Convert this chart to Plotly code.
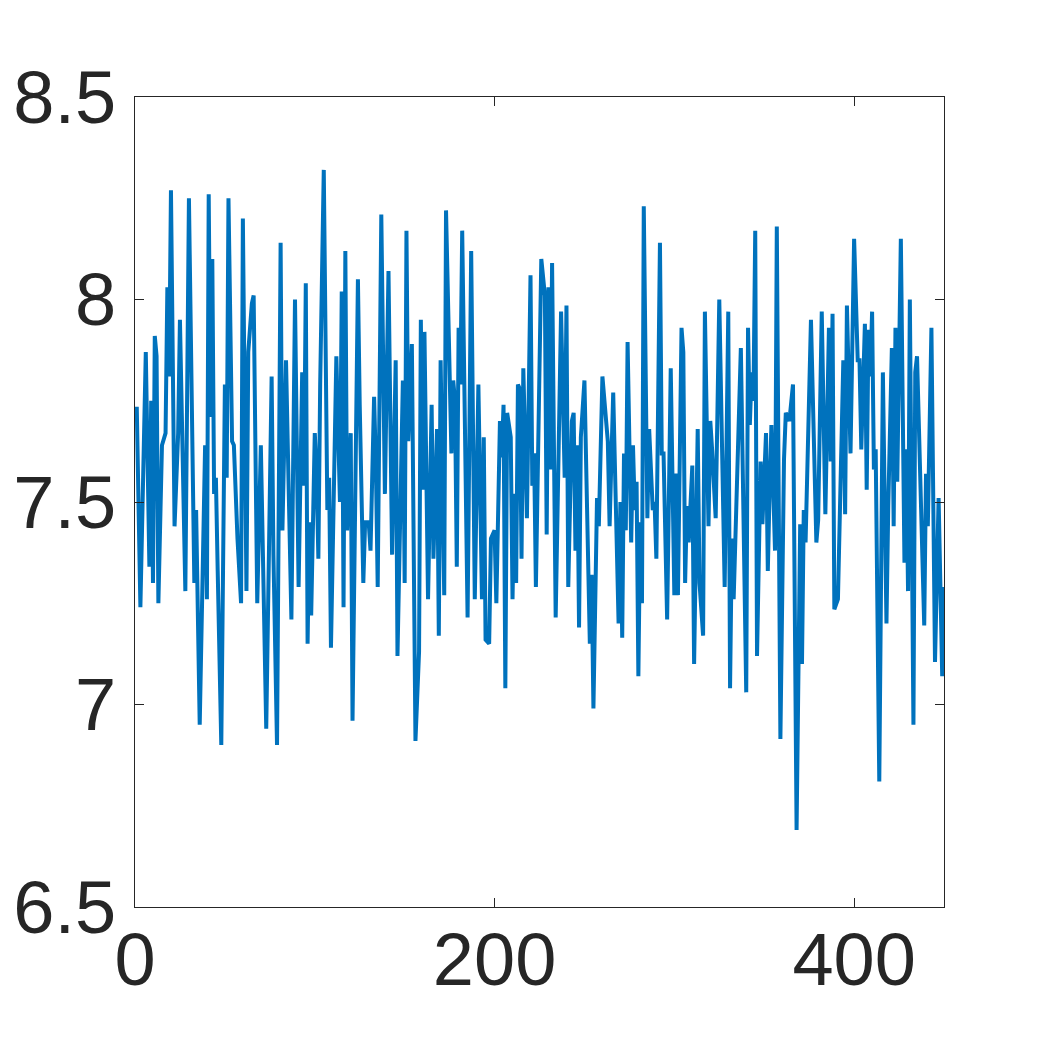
import plotly.graph_objects as go

# sample index of each vertex
sample_idx = [
    0, 1, 3, 6, 8, 9, 10, 11, 12, 13, 15, 17, 18, 19, 20, 22, 24, 25, 28, 30,
    33, 34, 36, 39, 40, 41, 42, 43, 44, 45, 46, 48, 50, 51, 52, 53, 54, 55, 57,
    59, 60, 62, 63, 65, 66, 68, 70, 73, 76, 77, 79, 81, 82, 84, 87, 89, 91, 93,
    94, 95, 96, 97, 98, 100, 101, 102, 103, 105, 107, 108, 109, 112, 114, 115,
    116, 117, 118, 120, 121, 124, 125, 127, 128, 130, 131, 133, 134, 135, 137,
    139, 141, 143, 145, 146, 149, 150, 151, 152, 154, 156, 158, 159, 160, 161,
    163, 165, 166, 168, 169, 170, 172, 173, 176, 177, 178, 179, 180, 181, 182,
    185, 187, 189, 191, 193, 194, 195, 197, 198, 200, 201, 203, 204, 205, 206,
    207, 209, 210, 211, 212, 213, 214, 215, 216, 218, 220, 221, 222, 223, 226,
    228, 229, 230, 231, 232, 234, 237, 239, 240, 241, 243, 244, 245, 246, 247,
    248, 250, 253, 254, 255, 257, 258, 260, 262, 263, 264, 266, 269, 270, 271,
    272, 273, 274, 276, 277, 278, 279, 280, 281, 282, 283, 285, 286, 288, 289,
    290, 292, 293, 294, 296, 298, 300, 301, 302, 304, 305, 306, 307, 308, 310,
    311, 313, 314, 316, 317, 319, 320, 321, 323, 325, 327, 328, 330, 331, 332,
    333, 337, 340, 341, 342, 343, 344, 345, 346, 348, 349, 351, 352, 353, 354,
    356, 357, 359, 361, 362, 364, 366, 368, 370, 371, 372, 373, 376, 379, 380,
    382, 384, 386, 387, 388, 389, 391, 394, 395, 396, 398, 400, 402, 403, 404,
    406, 407, 408, 409, 410, 411, 412, 414, 416, 418, 419, 421, 422, 423, 424,
    426, 428, 429, 430, 431, 433, 434, 435, 436, 439, 440, 441, 443, 445, 447,
    449, 450,
]

values = [
    7.73, 7.73, 7.24, 7.87, 7.34, 7.75, 7.30, 7.91, 7.86, 7.25, 7.64, 7.67, 8.03,
    7.81, 8.27, 7.44, 7.67, 7.95, 7.28, 8.25, 7.30, 7.48, 6.95, 7.64, 7.26, 8.26,
    7.71, 8.10, 7.52, 7.56, 7.33, 6.90, 7.79, 7.56, 8.25, 7.87, 7.65, 7.64, 7.41,
    7.25, 8.20, 7.28, 7.87, 7.99, 8.01, 7.25, 7.64, 6.94, 7.81, 7.37, 6.90, 8.14,
    7.43, 7.85, 7.21, 8.00, 7.29, 7.82, 7.54, 8.04, 7.15, 7.45, 7.22, 7.67, 7.57,
    7.36, 7.79, 8.32, 7.48, 7.56, 7.14, 7.86, 7.50, 8.02, 7.24, 8.12, 7.43, 7.67,
    6.96, 8.05, 7.74, 7.30, 7.45, 7.45, 7.38, 7.76, 7.59, 7.29, 8.21, 7.52, 8.07,
    7.37, 7.85, 7.12, 7.80, 7.30, 8.17, 7.65, 7.89, 6.91, 7.13, 7.95, 7.53, 7.92,
    7.26, 7.74, 7.36, 7.68, 7.17, 7.85, 7.27, 8.22, 7.62, 7.80, 7.75, 7.34, 7.93,
    7.79, 8.17, 7.215, 8.12, 7.26, 7.79, 7.26, 7.66, 7.16, 7.15, 7.41, 7.43, 7.25,
    7.70, 7.61, 7.74, 7.04, 7.72, 7.66, 7.26, 7.52, 7.30, 7.79, 7.78, 7.36, 7.83,
    7.46, 8.06, 7.54, 7.62, 7.29, 8.10, 8.01, 7.42, 8.03, 7.58, 8.09, 7.215, 7.97,
    7.56, 7.985, 7.29, 7.70, 7.72, 7.38, 7.64, 7.19, 7.66, 7.80, 7.15, 7.32, 6.99,
    7.51, 7.44, 7.81, 7.69, 7.65, 7.44, 7.77, 7.20, 7.50, 7.165, 7.62, 7.43, 7.895,
    7.40, 7.64, 7.48, 7.55, 7.07, 7.45, 7.25, 8.23, 7.46, 7.68, 7.48, 7.50, 7.36,
    8.14, 7.62, 7.62, 7.21, 7.83, 7.27, 7.57, 7.27, 7.93, 7.87, 7.30, 7.49, 7.40,
    7.59, 7.10, 7.68, 7.30, 7.17, 7.97, 7.44, 7.70, 7.63, 7.46, 8.00, 7.43, 7.29,
    7.97, 7.04, 7.41, 7.26, 7.88, 7.03, 7.93, 7.69, 7.82, 7.75, 8.17, 7.12, 7.60,
    7.445, 7.67, 7.33, 7.53, 7.69, 7.38, 8.18, 6.915, 7.605, 7.72, 7.70, 7.79,
    6.69, 7.445, 7.10, 7.48, 7.40, 7.95, 7.40, 7.455, 7.97, 7.47, 7.93, 7.60,
    7.965, 7.235, 7.26, 7.85, 7.47, 7.985, 7.62, 8.15, 7.85, 7.85, 7.63, 7.94,
    7.53, 7.925, 7.81, 7.97, 7.58, 7.63, 6.81, 7.82, 7.20, 7.49, 7.88, 7.44, 7.93,
    7.55, 8.15, 7.35, 7.63, 7.28, 8.00, 6.95, 7.82, 7.86, 7.69, 7.195, 7.57, 7.44,
    7.93, 7.105, 7.51, 7.07, 7.29,
]

x_ticks = [0, 200, 400]
y_ticks = [6.5, 7, 7.5, 8, 8.5]
y_tick_labels = ["6.5", "7", "7.5", "8", "8.5"]

axis_color = "#262626"
font = dict(family="Liberation Sans, Arial, Helvetica", size=74, color=axis_color)

fig = go.Figure()
fig.add_trace(go.Scatter(
    x=sample_idx,
    y=values,
    mode="lines",
    line=dict(color="#0072BD", width=4),
    showlegend=False,
))

axis_common = dict(
    showgrid=False,
    zeroline=False,
    showline=True,
    linecolor=axis_color,
    linewidth=1,
    mirror="ticks",
    ticks="inside",
    ticklen=9,
    tickwidth=1,
    tickcolor=axis_color,
    tickfont=font,
    automargin=False,
)

fig.update_xaxes(range=[0, 450], tickvals=x_ticks, ticklabelstandoff=-12, **axis_common)
fig.update_yaxes(range=[6.5, 8.5], tickvals=y_ticks, ticktext=y_tick_labels,
                 ticklabelstandoff=3, **axis_common)

# the page body adds an 8px offset, so the figure is a bit smaller than the window
fig.update_layout(
    width=1035,
    height=1034,
    plot_bgcolor="white",
    paper_bgcolor="white",
    margin=dict(l=127, r=99, t=89, b=135),
)

fig.write_html("out.html")
